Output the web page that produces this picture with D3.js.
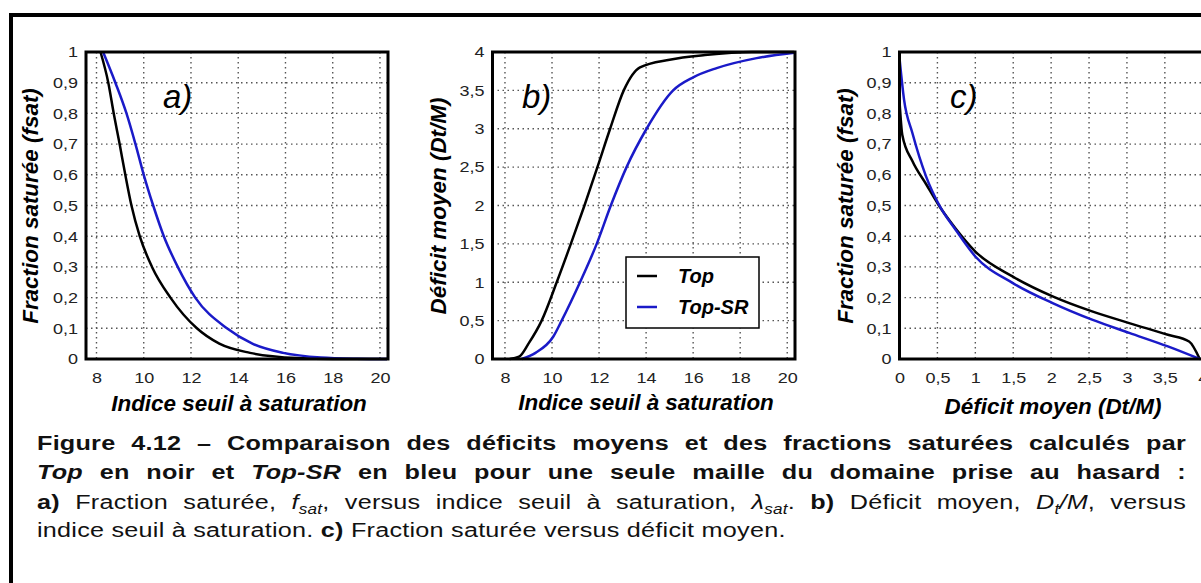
<!DOCTYPE html>
<html>
<head>
<meta charset="utf-8">
<script src="https://cdn.jsdelivr.net/npm/d3@7"></script>
<style>
  html, body { margin: 0; padding: 0; background: #fff; }
  svg { display: block; }
  svg text { font-family: "Liberation Sans", Arial, sans-serif; }
</style>
</head>
<body>
<script>
// ---- data ---------------------------------------------------------------
// a) saturated fraction vs. saturation threshold index
const aTopIdx  = [8.17, 8.5, 8.73, 8.98, 9.22, 9.48, 9.83, 10.35, 11.13, 12.25, 13.2, 14.5, 16.5, 18.0, 20.3];
const aTopFsat = [1.0, 0.9, 0.8, 0.7, 0.6, 0.5, 0.4, 0.3, 0.2, 0.1, 0.05, 0.02, 0.003, 0.0, 0.0];
const aSrIdx   = [8.28, 8.8, 9.27, 9.65, 10.0, 10.4, 10.85, 11.44, 12.18, 13.52, 14.6, 15.9, 17.5, 19.0, 20.3];
const aSrFsat  = [1.0, 0.9, 0.8, 0.7, 0.6, 0.5, 0.4, 0.3, 0.2, 0.1, 0.05, 0.02, 0.005, 0.001, 0.0];

// b) mean deficit vs. saturation threshold index
const bTopIdx = [8.2, 8.6, 9.0, 9.56, 10.2, 10.8, 11.38, 11.93, 12.47, 13.05, 13.74, 15.0, 16.5, 18.5, 20.3];
const bTopDef = [0.0, 0.03, 0.2, 0.5, 1.0, 1.5, 2.0, 2.5, 3.0, 3.5, 3.8, 3.9, 3.96, 4.0, 4.0];
const bSrIdx  = [8.71, 9.3, 10.05, 10.41, 11.19, 11.9, 12.5, 13.17, 14.02, 15.15, 16.0, 17.0, 18.7, 20.3];
const bSrDef  = [0.0, 0.08, 0.29, 0.5, 1.0, 1.5, 2.0, 2.5, 3.0, 3.5, 3.67, 3.79, 3.92, 3.99];

// c) saturated fraction vs. mean deficit
const cTopDef  = [0.0, 0.037, 0.17, 0.35, 0.52, 0.74, 1.0, 1.49, 2.02, 2.54, 3.03, 3.54, 3.82, 3.96];
const cTopFsat = [0.84, 0.73, 0.645, 0.57, 0.50, 0.425, 0.35, 0.269, 0.204, 0.155, 0.117, 0.079, 0.057, 0.0];
const cSrDef   = [0.0, 0.06, 0.17, 0.35, 0.52, 0.74, 1.0, 1.49, 2.02, 2.54, 3.03, 3.54, 3.96];
const cSrFsat  = [0.98, 0.845, 0.736, 0.595, 0.503, 0.421, 0.334, 0.248, 0.182, 0.128, 0.085, 0.041, 0.0];

// tick values
const idxTicks  = [8, 10, 12, 14, 16, 18, 20];
const fsatTicks = [0, 0.1, 0.2, 0.3, 0.4, 0.5, 0.6, 0.7, 0.8, 0.9, 1];
const defTicks  = [0, 0.5, 1, 1.5, 2, 2.5, 3, 3.5, 4];

const seriesNames = ["Top", "Top-SR"];
const seriesColors = ["#000000", "#1a1ac8"];

// ---- drawing ------------------------------------------------------------
const W = 1201, H = 583;
const fmt = d => String(d).replace('.', ',');
const TICK_SX = 1.2;    // horizontal widening of the numeric labels
const TITLE_SX = 1.02;  // widening of axis titles along their baseline

const svg = d3.select('body').append('svg').attr('width', W).attr('height', H);
svg.append('rect').attr('width', W).attr('height', H).attr('fill', '#fff');

// heavy outer frame of the figure
svg.append('rect')
  .attr('x', 11).attr('y', 15).attr('width', 1400).attr('height', 800)
  .attr('fill', 'none').attr('stroke', '#000').attr('stroke-width', 4);

function panel(cfg) {
  const g = svg.append('g');
  const x = d3.scaleLinear().domain(cfg.xDomain).range([cfg.left, cfg.right]);
  const y = d3.scaleLinear().domain(cfg.yDomain).range([cfg.bottom, cfg.top]);

  // dotted grid
  const grid = g.append('g')
    .attr('stroke', '#555').attr('stroke-width', 1.4).attr('stroke-dasharray', '1.5,3.5');
  cfg.xTicks.filter(v => x(v) > cfg.left + 4 && x(v) < cfg.right - 4).forEach(v => {
    grid.append('line').attr('x1', x(v)).attr('x2', x(v)).attr('y1', cfg.top).attr('y2', cfg.bottom);
  });
  cfg.yTicks.filter(v => y(v) > cfg.top + 4 && y(v) < cfg.bottom - 4).forEach(v => {
    grid.append('line').attr('y1', y(v)).attr('y2', y(v)).attr('x1', cfg.left).attr('x2', cfg.right);
  });

  // tick labels
  const styleTicks = sel => {
    sel.attr('font-family', null);
    sel.select('.domain').remove();
    sel.selectAll('text').attr('font-size', 15).attr('fill', '#222')
      .attr('transform', `scale(${TICK_SX},1)`);
  };
  g.append('g').attr('transform', `translate(0,${cfg.bottom})`)
    .call(d3.axisBottom(x).tickValues(cfg.xTicks).tickFormat(fmt).tickSize(0).tickPadding(13))
    .call(styleTicks);
  g.append('g').attr('transform', `translate(${cfg.left},0)`)
    .call(d3.axisLeft(y).tickValues(cfg.yTicks).tickFormat(fmt).tickSize(0).tickPadding(8))
    .call(styleTicks)
    .selectAll('text').attr('x', -8 / TICK_SX);

  // curves
  const line = d3.line().x(d => x(d[0])).y(d => y(d[1])).curve(d3.curveMonotoneX);
  cfg.series.forEach((s, i) => {
    g.append('path').datum(d3.zip(s[0], s[1]))
      .attr('d', line).attr('fill', 'none')
      .attr('stroke', seriesColors[i]).attr('stroke-width', 2.5).attr('stroke-linejoin', 'round');
  });

  // plot frame
  g.append('rect')
    .attr('x', cfg.left).attr('y', cfg.top)
    .attr('width', cfg.right - cfg.left).attr('height', cfg.bottom - cfg.top)
    .attr('fill', 'none').attr('stroke', '#000').attr('stroke-width', 3);

  // axis titles
  g.append('text')
    .attr('transform', `translate(${cfg.xTitlePos[0]},${cfg.xTitlePos[1]}) scale(${TITLE_SX},1)`)
    .attr('text-anchor', 'middle')
    .attr('font-weight', 'bold').attr('font-style', 'italic').attr('font-size', 22)
    .text(cfg.xTitle);
  g.append('text')
    .attr('transform', `translate(${cfg.yTitlePos[0]},${cfg.yTitlePos[1]}) rotate(-90) scale(${TITLE_SX},1)`)
    .attr('text-anchor', 'middle')
    .attr('font-weight', 'bold').attr('font-style', 'italic').attr('font-size', 22)
    .text(cfg.yTitle);

  // panel letter
  g.append('text')
    .attr('x', cfg.tagPos[0]).attr('y', cfg.tagPos[1])
    .attr('font-style', 'italic').attr('font-size', 33)
    .text(cfg.tag);

  return { x, y, g };
}

panel({
  left: 86, right: 388, top: 52, bottom: 359,
  xDomain: [7.556, 20.34], yDomain: [0, 1],
  xTicks: idxTicks, yTicks: fsatTicks,
  series: [[aTopIdx, aTopFsat], [aSrIdx, aSrFsat]],
  xTitle: 'Indice seuil à saturation', xTitlePos: [239, 411],
  yTitle: 'Fraction saturée (fsat)', yTitlePos: [38, 206],
  tag: 'a)', tagPos: [163, 108]
});

const pb = panel({
  left: 492.5, right: 795, top: 52, bottom: 359,
  xDomain: [7.47, 20.33], yDomain: [0, 4],
  xTicks: idxTicks, yTicks: defTicks,
  series: [[bTopIdx, bTopDef], [bSrIdx, bSrDef]],
  xTitle: 'Indice seuil à saturation', xTitlePos: [646, 410],
  yTitle: 'Déficit moyen (Dt/M)', yTitlePos: [446, 206],
  tag: 'b)', tagPos: [522, 108]
});

panel({
  left: 899.5, right: 1225.5, top: 52, bottom: 359,
  xDomain: [0, 4.3], yDomain: [0, 1],
  xTicks: defTicks, yTicks: fsatTicks,
  series: [[cTopDef, cTopFsat], [cSrDef, cSrFsat]],
  xTitle: 'Déficit moyen (Dt/M)', xTitlePos: [1053, 414],
  yTitle: 'Fraction saturée (fsat)', yTitlePos: [853, 206],
  tag: 'c)', tagPos: [950, 108]
});

// legend inside panel b
const lg = pb.g.append('g').attr('transform', 'translate(626,257)');
lg.append('rect').attr('width', 133).attr('height', 71)
  .attr('fill', '#fff').attr('stroke', '#000').attr('stroke-width', 1.5);
seriesNames.forEach((name, i) => {
  const yy = 19 + i * 31;
  lg.append('line').attr('x1', 11).attr('x2', 31).attr('y1', yy).attr('y2', yy)
    .attr('stroke', seriesColors[i]).attr('stroke-width', 2.5);
  lg.append('text').attr('transform', `translate(52,${yy + 7})`)
    .attr('font-weight', 'bold').attr('font-style', 'italic')
    .attr('font-size', 20).text(name);
});

// ---- caption --------------------------------------------------------------
const CAP_X = 37, CAP_W = 1149, CAP_SX = 1.2, CAP_SIZE = 21, CAP_LS = 0.2;

function captionLine(yBase, segs, justify) {
  const t = svg.append('text')
    .attr('transform', `translate(${CAP_X},${yBase}) scale(${CAP_SX},1)`)
    .attr('font-size', CAP_SIZE).attr('fill', '#111');
  let shifted = 0;
  segs.forEach(s => {
    const ts = t.append('tspan').text(s.t);
    if (s.b) ts.attr('font-weight', 'bold');
    if (s.i) ts.attr('font-style', 'italic');
    if (s.sub) {
      ts.attr('font-size', CAP_SIZE * 0.68).attr('dy', CAP_SIZE * 0.22);
      shifted = CAP_SIZE * 0.22;
    } else if (shifted) {
      ts.attr('dy', -shifted);
      shifted = 0;
    }
  });
  const w0 = t.node().getComputedTextLength();
  const str = t.text();
  const n = str.length;
  let ls = CAP_LS;
  if (justify) {
    const avail = CAP_W / CAP_SX;
    const spaces = (str.match(/ /g) || []).length;
    let ws = (avail - w0 - n * ls) / spaces;
    if (ws < 0) { ls = (avail - w0) / n; ws = 0; }
    t.attr('word-spacing', ws);
  }
  t.attr('letter-spacing', ls);
  return t;
}

captionLine(450, [
  { t: 'Figure 4.12 – Comparaison des déficits moyens et des fractions saturées calculés par', b: true }
], true);
captionLine(479, [
  { t: 'Top', b: true, i: true },
  { t: ' en noir et ', b: true },
  { t: 'Top-SR', b: true, i: true },
  { t: ' en bleu pour une seule maille du domaine prise au hasard :', b: true }
], true);
captionLine(509, [
  { t: 'a)', b: true },
  { t: ' Fraction saturée, ' },
  { t: 'f', i: true },
  { t: 'sat', i: true, sub: true },
  { t: ', versus indice seuil à saturation, ' },
  { t: 'λ', i: true },
  { t: 'sat', i: true, sub: true },
  { t: '. ' },
  { t: 'b)', b: true },
  { t: ' Déficit moyen, ' },
  { t: 'D', i: true },
  { t: 't', i: true, sub: true },
  { t: '/M', i: true },
  { t: ', versus' }
], true);
captionLine(537, [
  { t: 'indice seuil à saturation. ' },
  { t: 'c)', b: true },
  { t: ' Fraction saturée versus déficit moyen.' }
], false);
</script>
</body>
</html>
